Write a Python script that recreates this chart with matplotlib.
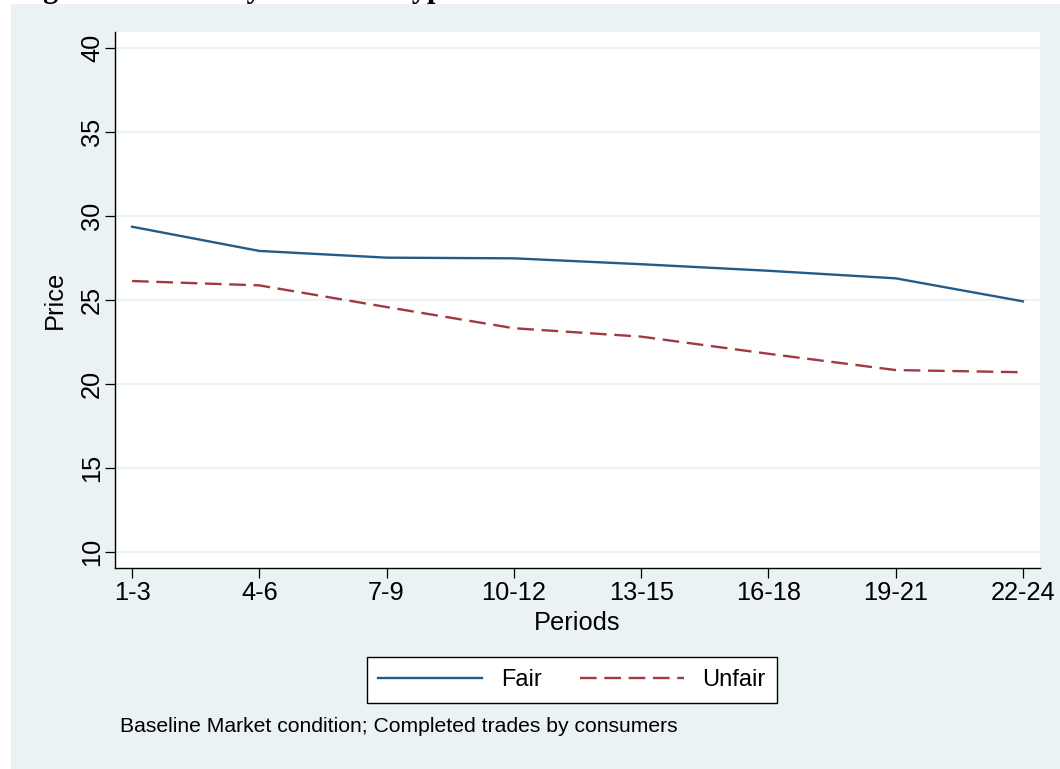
import matplotlib
matplotlib.use("Agg")
import matplotlib.pyplot as plt
from matplotlib.patches import Rectangle

# ---- data ----
periods = ["1-3", "4-6", "7-9", "10-12", "13-15", "16-18", "19-21", "22-24"]
fair = [29.36, 27.92, 27.52, 27.48, 27.13, 26.74, 26.29, 24.92]
unfair = [26.13, 25.87, 24.58, 23.32, 22.82, 21.80, 20.83, 20.70]
yticks = [10, 15, 20, 25, 30, 35, 40]
series_labels = ["Fair", "Unfair"]
note = "Baseline Market condition; Completed trades by consumers"
title = "Figure 3: Prices by Contract Type"

W, H = 1060, 769
BG = "#EAF2F3"
NAVY = "#235C88"
MAROON = "#A03A40"

plt.rcParams["font.family"] = ["Liberation Sans", "DejaVu Sans"]
plt.rcParams["lines.scale_dashes"] = False

fig = plt.figure(figsize=(W / 100, H / 100), dpi=100)
fig.patch.set_facecolor("white")
fig.patches.append(Rectangle((11 / W, 0), 1 - 11 / W, 1 - 4 / H,
                             transform=fig.transFigure, facecolor=BG,
                             edgecolor="none", zorder=-10))

# clipped caption title at the very top
fig.text(16 / W, 1 + 3 / H, title, family=["Liberation Serif", "DejaVu Serif"],
         fontweight="bold", fontsize=22, va="baseline", ha="left")

ax = fig.add_axes([115 / W, 1 - 568 / H, 925 / W, 536 / H])
ax.set_zorder(1)
ax.set_facecolor("white")
x = list(range(len(periods)))

ax.plot(x, fair, color=NAVY, lw=1.7, label=series_labels[0], zorder=3)
ax.plot(x, unfair, color=MAROON, lw=1.7, dashes=(12, 5.5), label=series_labels[1], zorder=3)

ax.set_xlim(-0.134, len(periods) - 1 + 0.134)
ax.set_ylim(9.05, 40.95)
ax.set_xticks(x)
ax.set_xticklabels(periods)
ax.set_yticks(yticks)
ax.set_yticklabels([str(t) for t in yticks], rotation=90, va="center")
ax.grid(axis="y", color=BG, lw=1.5, zorder=1)
ax.set_axisbelow(True)

for s in ["top", "right"]:
    ax.spines[s].set_visible(False)
for s in ["left", "bottom"]:
    ax.spines[s].set_color("black")
    ax.spines[s].set_linewidth(1.0)

ax.tick_params(axis="both", direction="out", length=10 * 0.72, width=0.9,
               colors="black", labelsize=18.3)
ax.tick_params(axis="x", pad=2)
ax.tick_params(axis="y", pad=0.8)

ax.set_xlabel("Periods", fontsize=18.3)
ax.set_ylabel("Price", fontsize=18.3)
ax.xaxis.set_label_coords(0.5, (568 - 611) / 536)
ax.yaxis.set_label_coords((67 - 115) / 925, 0.5)

leg = fig.legend(loc="center", bbox_to_anchor=(572 / W, 1 - 680 / H), ncol=2,
                 frameon=True, fancybox=False, framealpha=1, fontsize=17,
                 handlelength=4.4, handletextpad=0.8, columnspacing=1.6,
                 borderpad=0.5)
leg.get_frame().set_edgecolor("black")
leg.get_frame().set_linewidth(1.0)
leg.get_frame().set_facecolor("white")
leg.set_zorder(5)

fig.text(120 / W, 1 - 727 / H, note, fontsize=15.2, va="center", ha="left")

fig.savefig("out.png", dpi=100, facecolor=fig.get_facecolor())
